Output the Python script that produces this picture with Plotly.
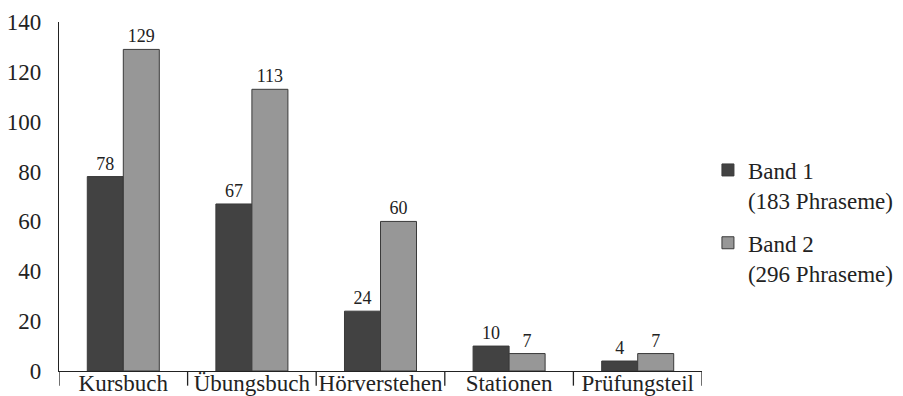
import plotly.graph_objects as go

categories = ["Kursbuch", "Übungsbuch", "Hörverstehen", "Stationen", "Prüfungsteil"]
band1 = [78, 67, 24, 10, 4]
band2 = [129, 113, 60, 7, 7]
series_names = ["Band 1<br>(183 Phraseme)", "Band 2<br>(296 Phraseme)"]
y_ticks = [0, 20, 40, 60, 80, 100, 120, 140]

FONT = "Liberation Serif"

fig = go.Figure()
for grp, name, vals, color in [("b1", series_names[0], band1, "#424242"),
                               ("b2", series_names[1], band2, "#979797")]:
    fig.add_trace(go.Bar(
        x=categories, y=vals, name=name, legendgroup=grp,
        marker=dict(color=color, line=dict(color="#3a3a3a", width=1)),
        text=[str(v) for v in vals], textposition="outside",
        textfont=dict(family=FONT, size=18, color="#222222"),
        cliponaxis=False,
    ))

# category boundary ticks hanging below the baseline
for i in range(len(categories) + 1):
    fig.add_shape(type="line", xref="x", yref="paper",
                  x0=i - 0.5, x1=i - 0.5, y0=0, y1=-0.042,
                  line=dict(color="#222222", width=1.3))

fig.update_layout(
    width=903, height=396,
    margin=dict(l=59, r=201, t=22, b=25),
    paper_bgcolor="white", plot_bgcolor="white",
    barmode="group", bargap=0.44, bargroupgap=0,
    font=dict(family=FONT, size=24, color="#222222"),
    showlegend=True,
    legend=dict(xref="container", yref="container",
                x=0.784, y=0.625, xanchor="left", yanchor="top",
                valign="top", traceorder="grouped",
                font=dict(family=FONT, size=23, color="#222222"),
                tracegroupgap=10, itemwidth=30),
)
fig.update_xaxes(showline=True, linecolor="#222222", linewidth=1.3,
                 ticks="", showgrid=False, tickangle=0,
                 tickfont=dict(family=FONT, size=23),
                 ticklabelstandoff=-9,
                 automargin=False,
                 range=[-0.5, len(categories) - 0.5])
fig.update_yaxes(range=[0, 140], tickvals=y_ticks, showgrid=False,
                 showline=True, linecolor="#222222", linewidth=1.3,
                 ticks="outside", ticklen=12, tickcolor="rgba(0,0,0,0)",
                 tickfont=dict(family=FONT, size=23), zeroline=False,
                 automargin=False)

fig.write_html("out.html")
